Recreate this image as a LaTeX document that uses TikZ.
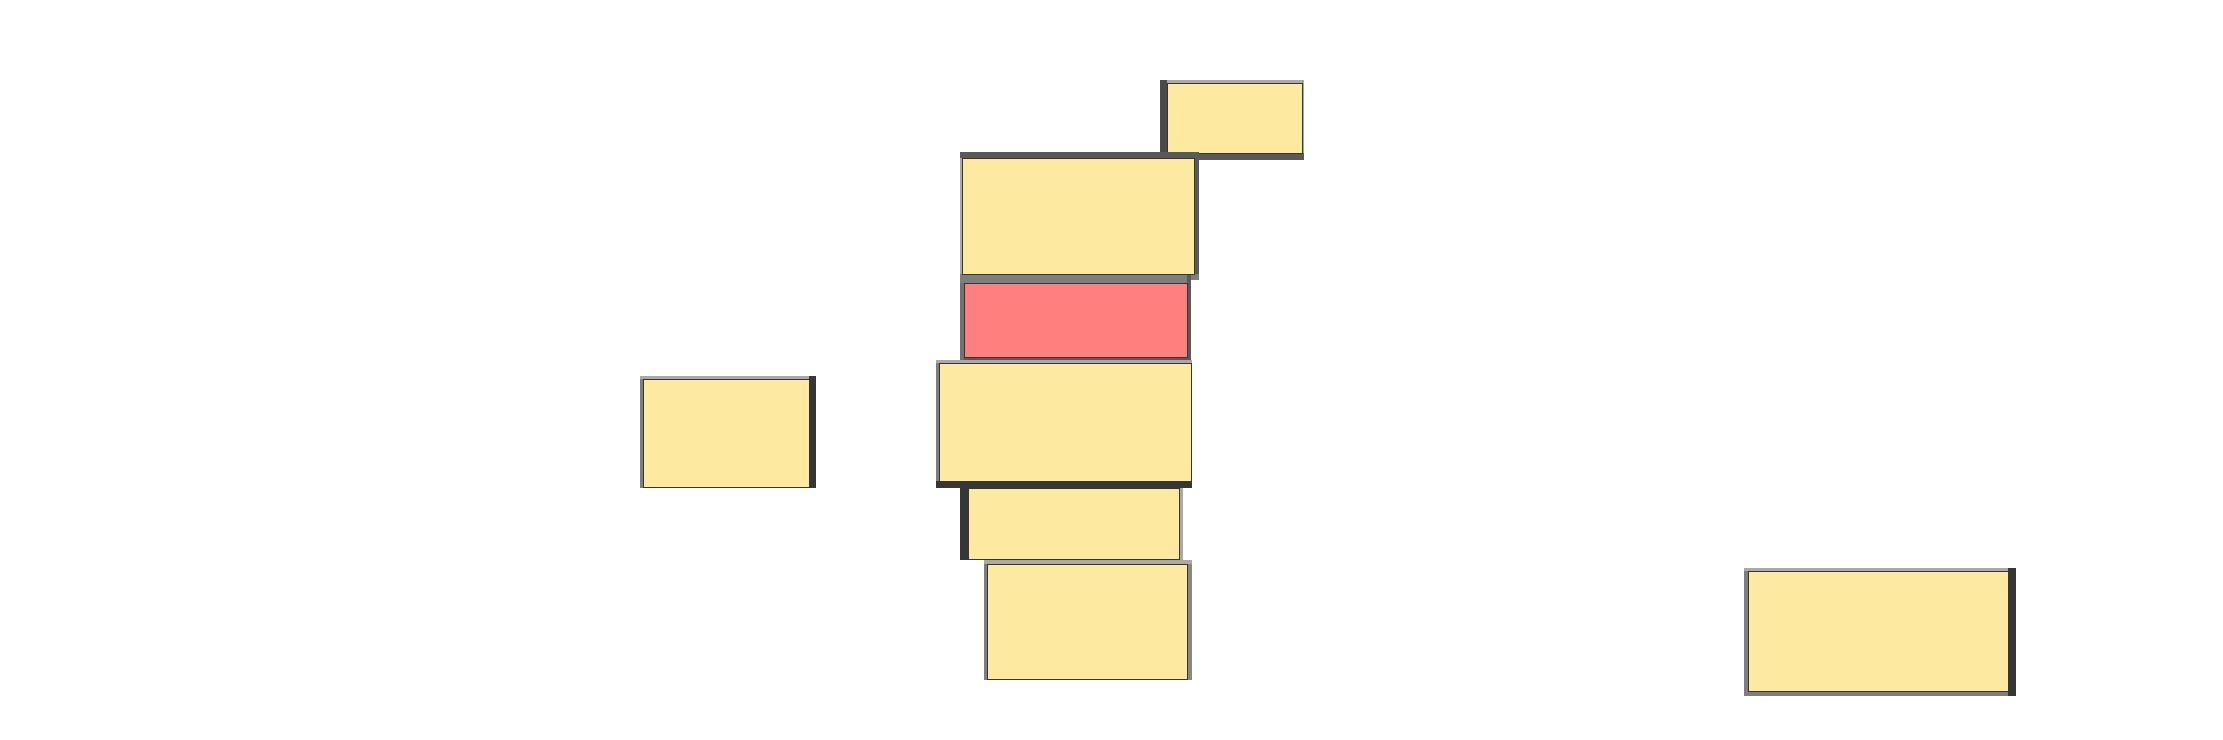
\documentclass[tikz,border=0pt]{standalone}
\definecolor{boxyellow}{HTML}{FEE9A0}
\definecolor{boxred}{HTML}{FF7F7F}
\definecolor{bdark}{HTML}{363636}
\definecolor{bmid}{HTML}{5A5A5A}
\definecolor{bgray}{HTML}{7E7E7E}
\definecolor{blight}{HTML}{ABA8A6}
\begin{document}
\begin{tikzpicture}[x=1pt,y=-1pt,
  box/.style={draw=bdark, line width=1.1pt, fill=boxyellow, inner sep=0pt, anchor=north west},
  redbox/.style={box, fill=boxred}]
\useasboundingbox (0,0) rectangle (2223,739);
% top small box
\fill[bdark!90] (1160,80) rectangle (1167,160);
\fill[blight] (1167,80) rectangle (1304,83);
\fill[blight] (1302,83) rectangle (1304,153);
\fill[bmid] (1167,153) rectangle (1304,160);
\node[box, minimum width=135pt, minimum height=70pt] (b1) at (1167,83) {};
% second box
\fill[bmid] (960,152) rectangle (1199,158);
\fill[bmid] (1194,158) rectangle (1199,280);
\fill[bgray] (960,274) rectangle (1199,280);
\fill[blight] (960,158) rectangle (962,274);
\node[box, minimum width=232pt, minimum height=116pt] (b2) at (962,158) {};
% red box
\fill[bgray] (960,275) rectangle (1191,283);
\fill[bgray!90!black] (960,283) rectangle (964,360);
\fill[bmid] (1187,275) rectangle (1191,360);
\fill[bmid] (964,357) rectangle (1191,360);
\node[redbox, minimum width=223pt, minimum height=74pt] (b3) at (964,283) {};
% fourth box
\fill[blight] (936,360) rectangle (1192,363);
\fill[bgray] (936,363) rectangle (939,487);
\fill[blight] (1190,363) rectangle (1192,481);
\fill[bdark] (936,481) rectangle (1192,488);
\node[box, minimum width=252pt, minimum height=118pt] (b4) at (939,363) {};
% fifth box
\fill[bdark] (960,488) rectangle (968,560);
\fill[blight] (1179,488) rectangle (1183,560);
\node[box, minimum width=211pt, minimum height=71pt] (b5) at (968,488) {};
% sixth box
\fill[blight] (984,560) rectangle (1192,564);
\fill[blight!80!black] (1187,564) rectangle (1192,680);
\fill[bgray] (984,564) rectangle (987,680);
\node[box, minimum width=200pt, minimum height=115pt] (b6) at (987,564) {};
% left box
\fill[blight] (640,376) rectangle (816,379);
\fill[bgray] (640,379) rectangle (643,488);
\fill[bdark] (809,376) rectangle (816,488);
\node[box, minimum width=166pt, minimum height=108pt] (b7) at (643,379) {};
% right box
\fill[blight] (1744,568) rectangle (2016,571);
\fill[bgray] (1744,571) rectangle (1748,696);
\fill[bgray] (1744,691) rectangle (2016,696);
\fill[bdark] (2008,568) rectangle (2016,696);
\node[box, minimum width=260pt, minimum height=120pt] (b8) at (1748,571) {};
\end{tikzpicture}
\end{document}
